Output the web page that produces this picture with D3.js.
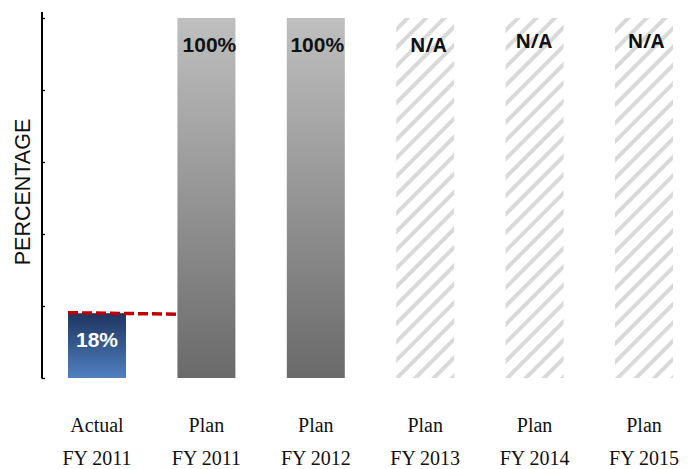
<!DOCTYPE html>
<html>
<head>
<meta charset="utf-8">
<script src="https://cdn.jsdelivr.net/npm/d3@7"></script>
<style>
  html, body { margin: 0; padding: 0; background: #ffffff; }
  svg { display: block; }
</style>
</head>
<body>
<div id="chart"></div>
<script>
// ---- Data ----
const categories = ["Actual|FY 2011", "Plan|FY 2011", "Plan|FY 2012", "Plan|FY 2013", "Plan|FY 2014", "Plan|FY 2015"];
const values = [18, 100, 100, 100, 100, 100];
const barKinds = ["actual", "plan", "plan", "na", "na", "na"];
const valueLabels = ["18%", "100%", "100%", "N/A", "N/A", "N/A"];
const yTicks = [0, 20, 40, 60, 80, 100];
const targetValue = 18;
const yTitle = "PERCENTAGE";

// ---- Layout ----
const W = 692, H = 469;
const svg = d3.select("#chart").append("svg").attr("width", W).attr("height", H);

const x = d3.scaleBand()
  .domain(categories)
  .range([42.3, 698.7])
  .paddingInner(0.47)
  .paddingOuter(0.235);

const y = d3.scaleLinear().domain([0, 100]).range([378, 18]);

// ---- Defs: gradients & hatch ----
const defs = svg.append("defs");
const gA = defs.append("linearGradient").attr("id", "gActual").attr("x1", 0).attr("y1", 0).attr("x2", 0).attr("y2", 1);
gA.append("stop").attr("offset", "0%").attr("stop-color", "#1d355f");
gA.append("stop").attr("offset", "100%").attr("stop-color", "#5080c0");

const gP = defs.append("linearGradient").attr("id", "gPlan").attr("x1", 0).attr("y1", 0).attr("x2", 0).attr("y2", 1);
gP.append("stop").attr("offset", "0%").attr("stop-color", "#bfbfbf");
gP.append("stop").attr("offset", "100%").attr("stop-color", "#6a6a6a");

const pat = defs.append("pattern")
  .attr("id", "hatch")
  .attr("patternUnits", "userSpaceOnUse")
  .attr("width", 13).attr("height", 13)
  .attr("patternTransform", "rotate(45)");
pat.append("rect").attr("width", 13).attr("height", 13).attr("fill", "#ffffff");
pat.append("rect").attr("x", 0).attr("y", 0).attr("width", 4).attr("height", 13).attr("fill", "#d9d9d9");

const fills = { actual: "url(#gActual)", plan: "url(#gPlan)", na: "url(#hatch)" };

// ---- Bars ----
svg.append("g").selectAll("rect")
  .data(categories)
  .join("rect")
  .attr("x", d => x(d))
  .attr("y", (d, i) => y(values[i]))
  .attr("width", x.bandwidth())
  .attr("height", (d, i) => y(0) - y(values[i]))
  .attr("fill", (d, i) => fills[barKinds[i]]);

// ---- Target dashed line ----
svg.append("line")
  .attr("x1", x(categories[0]))
  .attr("x2", x(categories[1]))
  .attr("y1", y(targetValue) - 0.5)
  .attr("y2", y(targetValue) + 1)
  .attr("stroke", "#c00000")
  .attr("stroke-width", 3.5)
  .attr("stroke-dasharray", "10,4");

// ---- Value labels ----
const labelDy = [0, 0, 0, 0, -4, -4];
const labelDx = [0, 3, 1.5, 3, -1, 2];
svg.append("g").selectAll("text")
  .data(categories)
  .join("text")
  .attr("x", (d, i) => x(d) + x.bandwidth() / 2 + labelDx[i])
  .attr("y", (d, i) => barKinds[i] === "actual" ? y(values[i]) + 34 : y(values[i]) + 34 + labelDy[i])
  .attr("text-anchor", "middle")
  .attr("font-family", (d, i) => barKinds[i] === "na" ? "'Open Sans', 'DejaVu Sans', sans-serif" : "'Liberation Sans', Arial, sans-serif")
  .attr("font-weight", "bold")
  .attr("font-size", (d, i) => barKinds[i] === "na" ? 19 : 21)
  .attr("fill", (d, i) => barKinds[i] === "actual" ? "#ffffff" : "#111111")
  .text((d, i) => valueLabels[i]);

// ---- Y axis ----
const yAxis = d3.axisRight(y).tickValues(yTicks).tickSize(3).tickSizeOuter(0).tickFormat("");
const ag = svg.append("g").attr("transform", "translate(42,0)").call(yAxis);
ag.select(".domain").remove();
ag.selectAll(".tick line").attr("stroke", "#000").attr("stroke-width", 1.3);
ag.append("line").attr("x1", 0).attr("x2", 0).attr("y1", 12).attr("y2", y(0) + 0.5)
  .attr("stroke", "#000").attr("stroke-width", 2);

svg.append("text")
  .attr("transform", "translate(30,192) rotate(-90)")
  .attr("text-anchor", "middle")
  .attr("font-family", "'Liberation Sans', Arial, sans-serif")
  .attr("font-size", 21.5)
  .attr("fill", "#111")
  .text(yTitle);

// ---- X labels ----
const xl = svg.append("g").selectAll("text")
  .data(categories)
  .join("text")
  .attr("x", d => x(d) + x.bandwidth() / 2)
  .attr("y", 432)
  .attr("text-anchor", "middle")
  .attr("font-family", "'Liberation Serif', 'Times New Roman', serif")
  .attr("font-size", 20)
  .attr("fill", "#111");
xl.append("tspan").attr("x", d => x(d) + x.bandwidth() / 2).attr("dy", 0).text(d => d.split("|")[0]);
xl.append("tspan").attr("x", d => x(d) + x.bandwidth() / 2).attr("dy", 33).text(d => d.split("|")[1]);
</script>
</body>
</html>
